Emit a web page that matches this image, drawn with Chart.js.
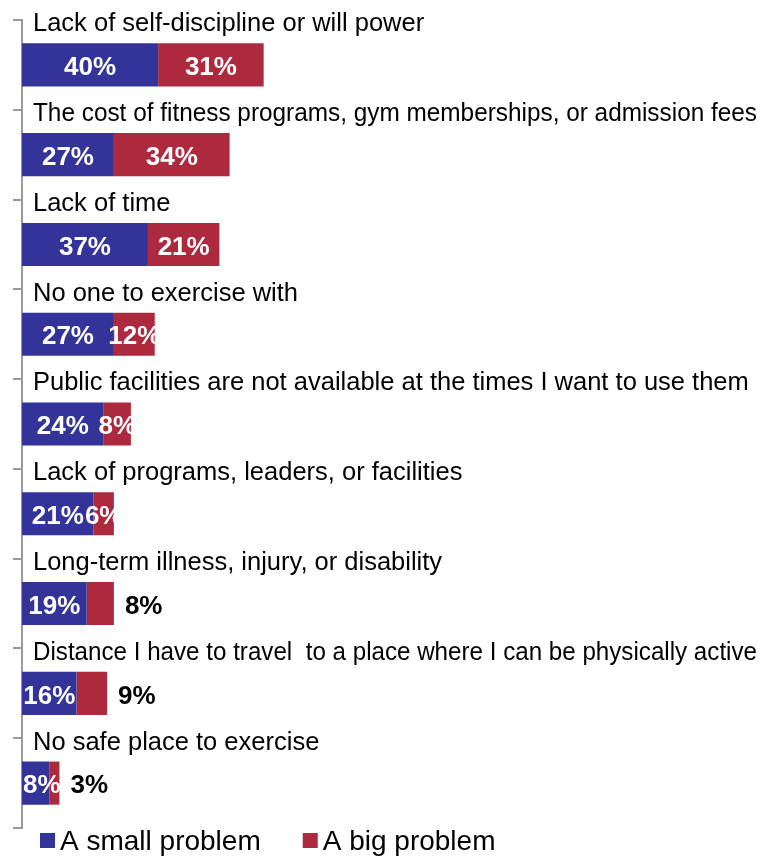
<!DOCTYPE html>
<html>
<head>
<meta charset="utf-8">
<script src="https://cdn.jsdelivr.net/npm/chart.js@4"></script>
<style>
  html, body { margin: 0; padding: 0; background: #fff; }
  #wrap { width: 764px; height: 858px; }
</style>
</head>
<body>
<div id="wrap"><canvas id="chart"></canvas></div>
<script>
const categories = [
  "Lack of self-discipline or will power",
  "The cost of fitness programs, gym memberships, or admission fees",
  "Lack of time",
  "No one to exercise with",
  "Public facilities are not available at the times I want to use them",
  "Lack of programs, leaders, or facilities",
  "Long-term illness, injury, or disability",
  "Distance I have to travel  to a place where I can be physically active",
  "No safe place to exercise"
];
const smallProblem = [40, 27, 37, 27, 24, 21, 19, 16, 8];
const bigProblem = [31, 34, 21, 12, 8, 6, 8, 9, 3];
const seriesNames = ["A small problem", "A big problem"];

const BLUE = '#333399';
const RED = '#ad2a3e';
const FONT = '"Liberation Sans", Arial, sans-serif';

// category titles above each bar, percentages on the segments, and the legend row
const labelsPlugin = {
  id: 'barLabels',
  afterDatasetsDraw(chart) {
    const ctx = chart.ctx;
    const area = chart.chartArea;
    const first = chart.getDatasetMeta(0).data;

    ctx.save();
    ctx.fillStyle = '#000';
    ctx.font = '25.5px ' + FONT;
    ctx.textAlign = 'left';
    ctx.textBaseline = 'alphabetic';
    const maxW = chart.width - area.left - 11 - 7;
    first.forEach((bar, i) => {
      const top = bar.y - bar.height / 2;
      ctx.fillText(categories[i], area.left + 11, top - 12, maxW);
    });

    ctx.font = 'bold 26px ' + FONT;
    ctx.textBaseline = 'middle';
    chart.data.datasets.forEach((ds, d) => {
      chart.getDatasetMeta(d).data.forEach((bar, i) => {
        const text = ds.data[i] + '%';
        const outside = d === 1 && i >= 6;
        if (outside) {
          ctx.fillStyle = '#000';
          ctx.textAlign = 'left';
          ctx.fillText(text, bar.x + 11, bar.y + 3);
        } else {
          // keep the label from spilling left of the axis
          const w = ctx.measureText(text).width;
          const cx = Math.max((bar.x + bar.base) / 2, area.left + 1 + w / 2);
          ctx.fillStyle = '#fff';
          ctx.textAlign = 'center';
          ctx.fillText(text, cx, bar.y + 3);
        }
      });
    });
    ctx.restore();
  },
  afterDraw(chart) {
    const ctx = chart.ctx;
    ctx.save();
    ctx.font = '28px ' + FONT;
    ctx.textAlign = 'left';
    ctx.textBaseline = 'middle';
    let x = 40;
    const y = 841;
    chart.data.datasets.forEach(ds => {
      ctx.fillStyle = ds.backgroundColor;
      ctx.fillRect(x, y - 8, 15, 15);
      ctx.fillStyle = '#000';
      ctx.fillText(ds.label, x + 20, y + 1);
      x += 20 + ctx.measureText(ds.label).width + 42;
    });
    ctx.restore();
  }
};

new Chart(document.getElementById('chart'), {
  type: 'bar',
  data: {
    labels: categories,
    datasets: [
      { label: seriesNames[0], data: smallProblem, backgroundColor: BLUE },
      { label: seriesNames[1], data: bigProblem, backgroundColor: RED }
    ]
  },
  options: {
    indexAxis: 'y',
    responsive: true,
    maintainAspectRatio: false,
    animation: false,
    layout: { padding: { left: 13, top: 20, right: 0, bottom: 30 } },
    datasets: {
      bar: { categoryPercentage: 1, barPercentage: 0.48 }
    },
    scales: {
      x: { stacked: true, display: false, min: 0, max: 218 },
      y: {
        stacked: true,
        z: 1,
        ticks: { display: false },
        grid: { drawOnChartArea: false, tickLength: 9, color: '#9a9a9a', lineWidth: 2, offset: true },
        border: { color: '#9a9a9a', width: 2 }
      }
    },
    plugins: {
      legend: { display: false },
      tooltip: { enabled: false }
    }
  },
  plugins: [labelsPlugin]
});
</script>
</body>
</html>
